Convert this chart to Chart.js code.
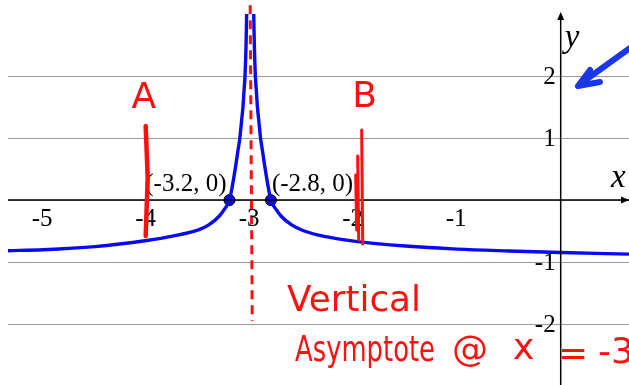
<!DOCTYPE html>
<html>
<head>
<meta charset="utf-8">
<script src="https://cdn.jsdelivr.net/npm/chart.js@4.4.1/dist/chart.umd.min.js"></script>
<style>
  html, body { margin: 0; padding: 0; background: #fff; }
  canvas { display: block; }
</style>
</head>
<body>
<canvas id="graph" width="629" height="385"></canvas>
<script>
// curve branches either side of the asymptote (x, y)
const leftX  = [-5.34, -5, -4.5, -4, -3.75, -3.5, -3.4, -3.3, -3.25, -3.2, -3.17, -3.145, -3.12, -3.1, -3.085, -3.07, -3.06, -3.05, -3.04, -3.033];
const leftY  = [-0.815, -0.80, -0.75, -0.65, -0.58, -0.48, -0.40, -0.26, -0.15, 0, 0.25, 0.5, 0.78, 1, 1.25, 1.5, 1.75, 2, 2.5, 3.1];
const rightX = [-2.967, -2.96, -2.95, -2.94, -2.93, -2.915, -2.9, -2.88, -2.855, -2.83, -2.8, -2.75, -2.7, -2.6, -2.49, -2.35, -2.23, -2, -1.5, -1, -0.5, 0, 0.66];
const rightY = [3.1, 2.5, 2, 1.75, 1.5, 1.25, 1, 0.78, 0.5, 0.25, 0, -0.15, -0.26, -0.40, -0.49, -0.56, -0.6, -0.66, -0.74, -0.79, -0.82, -0.845, -0.87];

// x-intercepts
const zeroX = [-3.2, -2.8];
const zeroLabels = ['(-3.2, 0)', '(-2.8, 0)'];

const asymptoteX = -3;

// tick labels
const xTicks = [-5, -4, -3, -2, -1];
const yTicks = [2, 1, -1, -2];

const toPoints = (xs, ys) => xs.map((x, i) => ({ x: x, y: ys[i] }));

const BLUE = '#0a0af0';
const RED = '#ff1010';
const SERIF = '"Liberation Serif", "DejaVu Serif", serif';
const PEN = '"DejaVu Sans", sans-serif';

// axes, labels and the red pen notes
const overlay = {
    id: 'overlay',
    afterDatasetsDraw(chart) {
        const c = chart.ctx;
        const xs = chart.scales.x, ys = chart.scales.y;
        const area = chart.chartArea;
        const px = v => xs.getPixelForValue(v);
        const py = v => ys.getPixelForValue(v);
        const x0 = px(0), y0 = py(0);

        c.save();
        // axis lines + arrows
        c.strokeStyle = '#000';
        c.fillStyle = '#000';
        c.lineWidth = 1.5;
        c.beginPath();
        c.moveTo(area.left, y0); c.lineTo(area.right, y0);
        c.moveTo(x0, area.bottom); c.lineTo(x0, area.top);
        c.stroke();
        c.beginPath();
        c.moveTo(x0, area.top - 2); c.lineTo(x0 - 3.5, area.top + 6); c.lineTo(x0 + 3.5, area.top + 6);
        c.closePath(); c.fill();
        c.beginPath();
        c.moveTo(area.right, y0); c.lineTo(area.right - 8, y0 - 3.5); c.lineTo(area.right - 8, y0 + 3.5);
        c.closePath(); c.fill();

        // tick labels
        c.font = '25px ' + SERIF;
        c.textBaseline = 'middle';
        c.textAlign = 'center';
        xTicks.forEach(v => c.fillText(String(v), px(v) - 1, y0 + 19));
        c.textAlign = 'right';
        yTicks.forEach(v => c.fillText(String(v), x0 - 5, py(v) + 1));

        // axis names
        c.font = 'italic 33px ' + SERIF;
        c.textAlign = 'left';
        c.fillText('y', x0 + 4, 38);
        c.fillText('x', area.right - 18, y0 - 22);

        // intercept labels
        c.font = '25px ' + SERIF;
        c.textAlign = 'right';
        c.fillText(zeroLabels[0], px(zeroX[0]) - 3, y0 - 16);
        c.textAlign = 'left';
        c.fillText(zeroLabels[1], px(zeroX[1]) + 1, y0 - 16);

        // red pen: test points A and B
        c.strokeStyle = RED;
        c.fillStyle = RED;
        c.lineCap = 'round';
        c.lineJoin = 'round';
        c.lineWidth = 4.5;
        c.beginPath();
        c.moveTo(px(-4) - 1, 126); c.lineTo(px(-4) + 1, 178); c.lineTo(px(-4) - 1, 236);
        c.stroke();
        c.lineWidth = 3;
        c.beginPath();
        c.moveTo(px(-2) + 8, 130); c.lineTo(px(-2) + 9, 244);
        c.moveTo(px(-2) + 4, 156); c.lineTo(px(-2) + 5, 240);
        c.moveTo(px(-2) + 2, 175); c.lineTo(px(-2) + 3, 230);
        c.stroke();

        c.font = '36px ' + PEN;
        c.textAlign = 'center';
        c.textBaseline = 'middle';
        c.fillText('A', px(-4) - 3, 99);
        c.fillText('B', px(-2) + 11, 98);

        // red pen: asymptote note
        c.textAlign = 'left';
        c.font = '36px ' + PEN;
        c.fillText('Vertical', 287, 302, 134);
        c.fillText('Asymptote', 295, 352, 140);
        c.fillText('@', 452, 352);
        c.fillText('x', 513, 350);
        c.fillText('=', 558, 356);
        c.fillText('-3', 598, 354);

        // blue pen arrow
        c.strokeStyle = '#1a38e8';
        c.lineWidth = 6;
        c.beginPath();
        c.moveTo(630, 48); c.lineTo(580, 84);
        c.moveTo(590, 70); c.lineTo(578, 86); c.lineTo(600, 82);
        c.stroke();
        c.restore();
    }
};

new Chart(document.getElementById('graph'), {
    type: 'scatter',
    data: {
        datasets: [
            {
                data: toPoints(leftX, leftY),
                showLine: true,
                borderColor: BLUE,
                borderWidth: 3.4,
                pointRadius: 0,
                cubicInterpolationMode: 'monotone'
            },
            {
                data: toPoints(rightX, rightY),
                showLine: true,
                borderColor: BLUE,
                borderWidth: 3.4,
                pointRadius: 0,
                cubicInterpolationMode: 'monotone'
            },
            {
                // dashed asymptote, drawn past the top of the grid
                data: [{ x: asymptoteX, y: 3.14 }, { x: asymptoteX + 0.02, y: -1.95 }],
                showLine: true,
                borderColor: RED,
                borderWidth: 3,
                borderDash: [9, 6],
                pointRadius: 0,
                clip: false
            },
            {
                data: zeroX.map(x => ({ x: x, y: 0 })),
                pointRadius: 5.5,
                backgroundColor: BLUE,
                borderColor: '#000',
                borderWidth: 1
            }
        ]
    },
    options: {
        responsive: false,
        animation: false,
        events: [],
        layout: { autoPadding: false, padding: { left: 8, top: 14, right: 0, bottom: 0 } },
        plugins: {
            legend: { display: false },
            tooltip: { enabled: false }
        },
        scales: {
            x: {
                type: 'linear',
                min: -5.34,
                max: 0.66,
                ticks: { display: false, stepSize: 1, includeBounds: false, padding: 0 },
                afterBuildTicks: s => { s.ticks = s.ticks.filter(t => Number.isInteger(t.value)); },
                afterFit: s => { s.height = 0; },
                grid: { color: '#9c9c9c', lineWidth: 1, drawTicks: false },
                border: { display: false }
            },
            y: {
                type: 'linear',
                min: -2.98,
                max: 3.0,
                ticks: { display: false, stepSize: 1, includeBounds: false, padding: 0 },
                afterBuildTicks: s => { s.ticks = s.ticks.filter(t => Number.isInteger(t.value) && t.value < 3); },
                afterFit: s => { s.width = 0; },
                grid: { color: '#9c9c9c', lineWidth: 1, drawTicks: false },
                border: { display: false }
            }
        }
    },
    plugins: [overlay]
});
</script>
</body>
</html>
